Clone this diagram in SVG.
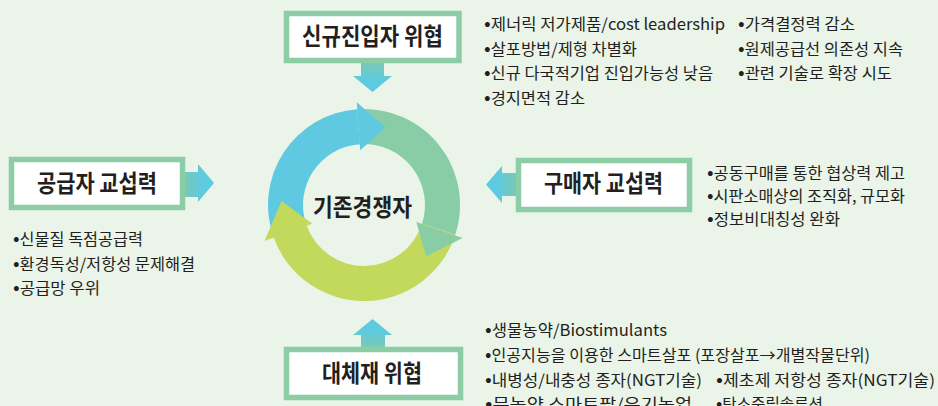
<svg xmlns="http://www.w3.org/2000/svg" width="938" height="406" viewBox="0 0 938 406">
<defs>
<style>
.box{fill:#ffffff;stroke:#8dcda6;stroke-width:5.5}
.title{font-family:"Noto Sans CJK KR","Noto Sans",sans-serif;font-size:24px;font-weight:bold;fill:#231f20;text-anchor:start}
.li{font-family:"Noto Sans CJK KR","Noto Sans",sans-serif;font-size:16px;fill:#231f20}
.b{font-size:19px}
</style>
<linearGradient id="gDown" x1="0" y1="63" x2="0" y2="92" gradientUnits="userSpaceOnUse"><stop offset="0" stop-color="#78c9b6"/><stop offset="0.6" stop-color="#5ecae0"/><stop offset="1" stop-color="#5ccbe2"/></linearGradient>
<linearGradient id="gUp" x1="0" y1="347" x2="0" y2="319" gradientUnits="userSpaceOnUse"><stop offset="0" stop-color="#78c9b6"/><stop offset="0.6" stop-color="#5ecae0"/><stop offset="1" stop-color="#5ccbe2"/></linearGradient>
<linearGradient id="gRight" x1="185" y1="0" x2="214" y2="0" gradientUnits="userSpaceOnUse"><stop offset="0" stop-color="#78c9b6"/><stop offset="0.6" stop-color="#5ecae0"/><stop offset="1" stop-color="#5ccbe2"/></linearGradient>
<linearGradient id="gLeft" x1="516" y1="0" x2="486" y2="0" gradientUnits="userSpaceOnUse"><stop offset="0" stop-color="#78c9b6"/><stop offset="0.6" stop-color="#5ecae0"/><stop offset="1" stop-color="#5ccbe2"/></linearGradient>
</defs>
<rect x="0" y="0" width="938" height="406" fill="#eaf4e9"/>

<g id="connectors">
<polygon points="361,63 384,63 384,76 392,76 372.5,92 353,76 361,76" fill="url(#gDown)"/>
<polygon points="361,347 385,347 385,335 392,335 372.5,319 353,335 361,335" fill="url(#gUp)"/>
<polygon points="185,172 198,172 198,164 214,183 198,202 198,197 185,197" fill="url(#gRight)"/>
<polygon points="516,173 502,173 502,166 486,184.5 502,203 502,196 516,196" fill="url(#gLeft)"/>
</g>

<g id="cycle">
<path d="M273.79,237.83 A96,96 0 0 1 357.30,109.23 L359.74,144.15 A61,61 0 0 0 306.68,225.86 Z" fill="#5ec9e1"/>
<path d="M357.30,109.23 A96,96 0 0 1 455.30,234.67 L422.02,223.85 A61,61 0 0 0 359.74,144.15 Z" fill="#88cda5"/>
<path d="M455.30,234.67 A96,96 0 0 1 273.79,237.83 L306.68,225.86 A61,61 0 0 0 422.02,223.85 Z" fill="#c3d95b"/>
<polygon points="356.81,102.25 385.5,127.5 360.16,150.13" fill="#5ec9e1"/>
<polygon points="462.5,238 426.17,256.5 416.31,222.0" fill="#88cda5"/>
<polygon points="264.5,241 281.5,201 312.32,223.81" fill="#c3d95b"/>
</g>

<g id="center">
<text class="title" x="313" y="216" textLength="99" lengthAdjust="spacingAndGlyphs">기존경쟁자</text>
</g>

<g id="new-entrants">
<rect class="box" x="286.5" y="13.5" width="172.5" height="47"/>
<text class="title" x="302" y="45" textLength="141" lengthAdjust="spacingAndGlyphs">신규진입자 위협</text>
</g>

<g id="suppliers">
<rect class="box" x="11.5" y="159.5" width="171" height="48"/>
<text class="title" x="37" y="192" textLength="120" lengthAdjust="spacingAndGlyphs">공급자 교섭력</text>
</g>

<g id="buyers">
<rect class="box" x="518.5" y="160.5" width="171" height="49"/>
<text class="title" x="544" y="192" textLength="119" lengthAdjust="spacingAndGlyphs">구매자 교섭력</text>
</g>

<g id="substitutes">
<rect class="box" x="286.5" y="349.5" width="174" height="48"/>
<text class="title" x="322" y="382" textLength="100" lengthAdjust="spacingAndGlyphs">대체재 위협</text>
</g>

<g id="new-entrants-notes">
<text class="li" x="484" y="30" textLength="241" lengthAdjust="spacingAndGlyphs"><tspan class="b">•</tspan>제너릭 저가제품/cost leadership</text>
<text class="li" x="484" y="54.5" textLength="153" lengthAdjust="spacingAndGlyphs"><tspan class="b">•</tspan>살포방법/제형 차별화</text>
<text class="li" x="484" y="79" textLength="229" lengthAdjust="spacingAndGlyphs"><tspan class="b">•</tspan>신규 다국적기업 진입가능성 낮음</text>
<text class="li" x="484" y="103.5" textLength="101" lengthAdjust="spacingAndGlyphs"><tspan class="b">•</tspan>경지면적 감소</text>
<text class="li" x="738" y="30" textLength="117" lengthAdjust="spacingAndGlyphs"><tspan class="b">•</tspan>가격결정력 감소</text>
<text class="li" x="738" y="54.5" textLength="165" lengthAdjust="spacingAndGlyphs"><tspan class="b">•</tspan>원제공급선 의존성 지속</text>
<text class="li" x="738" y="79" textLength="154" lengthAdjust="spacingAndGlyphs"><tspan class="b">•</tspan>관련 기술로 확장 시도</text>
</g>

<g id="suppliers-notes">
<text class="li" x="13" y="245" textLength="130" lengthAdjust="spacingAndGlyphs"><tspan class="b">•</tspan>신물질 독점공급력</text>
<text class="li" x="13" y="269.5" textLength="182" lengthAdjust="spacingAndGlyphs"><tspan class="b">•</tspan>환경독성/저항성 문제해결</text>
<text class="li" x="13" y="293.5" textLength="87" lengthAdjust="spacingAndGlyphs"><tspan class="b">•</tspan>공급망 우위</text>
</g>

<g id="buyers-notes">
<text class="li" x="707" y="179" textLength="198" lengthAdjust="spacingAndGlyphs"><tspan class="b">•</tspan>공동구매를 통한 협상력 제고</text>
<text class="li" x="707" y="202" textLength="198" lengthAdjust="spacingAndGlyphs"><tspan class="b">•</tspan>시판소매상의 조직화, 규모화</text>
<text class="li" x="707" y="225" textLength="133" lengthAdjust="spacingAndGlyphs"><tspan class="b">•</tspan>정보비대칭성 완화</text>
</g>

<g id="substitutes-notes">
<text class="li" x="485" y="336" textLength="182" lengthAdjust="spacingAndGlyphs"><tspan class="b">•</tspan>생물농약/Biostimulants</text>
<text class="li" x="485" y="361" textLength="385" lengthAdjust="spacingAndGlyphs"><tspan class="b">•</tspan>인공지능을 이용한 스마트살포 (포장살포→개별작물단위)</text>
<text class="li" x="485" y="386" textLength="217" lengthAdjust="spacingAndGlyphs"><tspan class="b">•</tspan>내병성/내충성 종자(NGT기술)</text>
<text class="li" x="485" y="410" textLength="207" lengthAdjust="spacingAndGlyphs"><tspan class="b">•</tspan>무농약 스마트팜/유기농업</text>
<text class="li" x="716" y="386" textLength="219" lengthAdjust="spacingAndGlyphs"><tspan class="b">•</tspan>제초제 저항성 종자(NGT기술)</text>
<text class="li" x="716" y="410" textLength="107" lengthAdjust="spacingAndGlyphs"><tspan class="b">•</tspan>탄소중립솔루션</text>
</g>
</svg>
